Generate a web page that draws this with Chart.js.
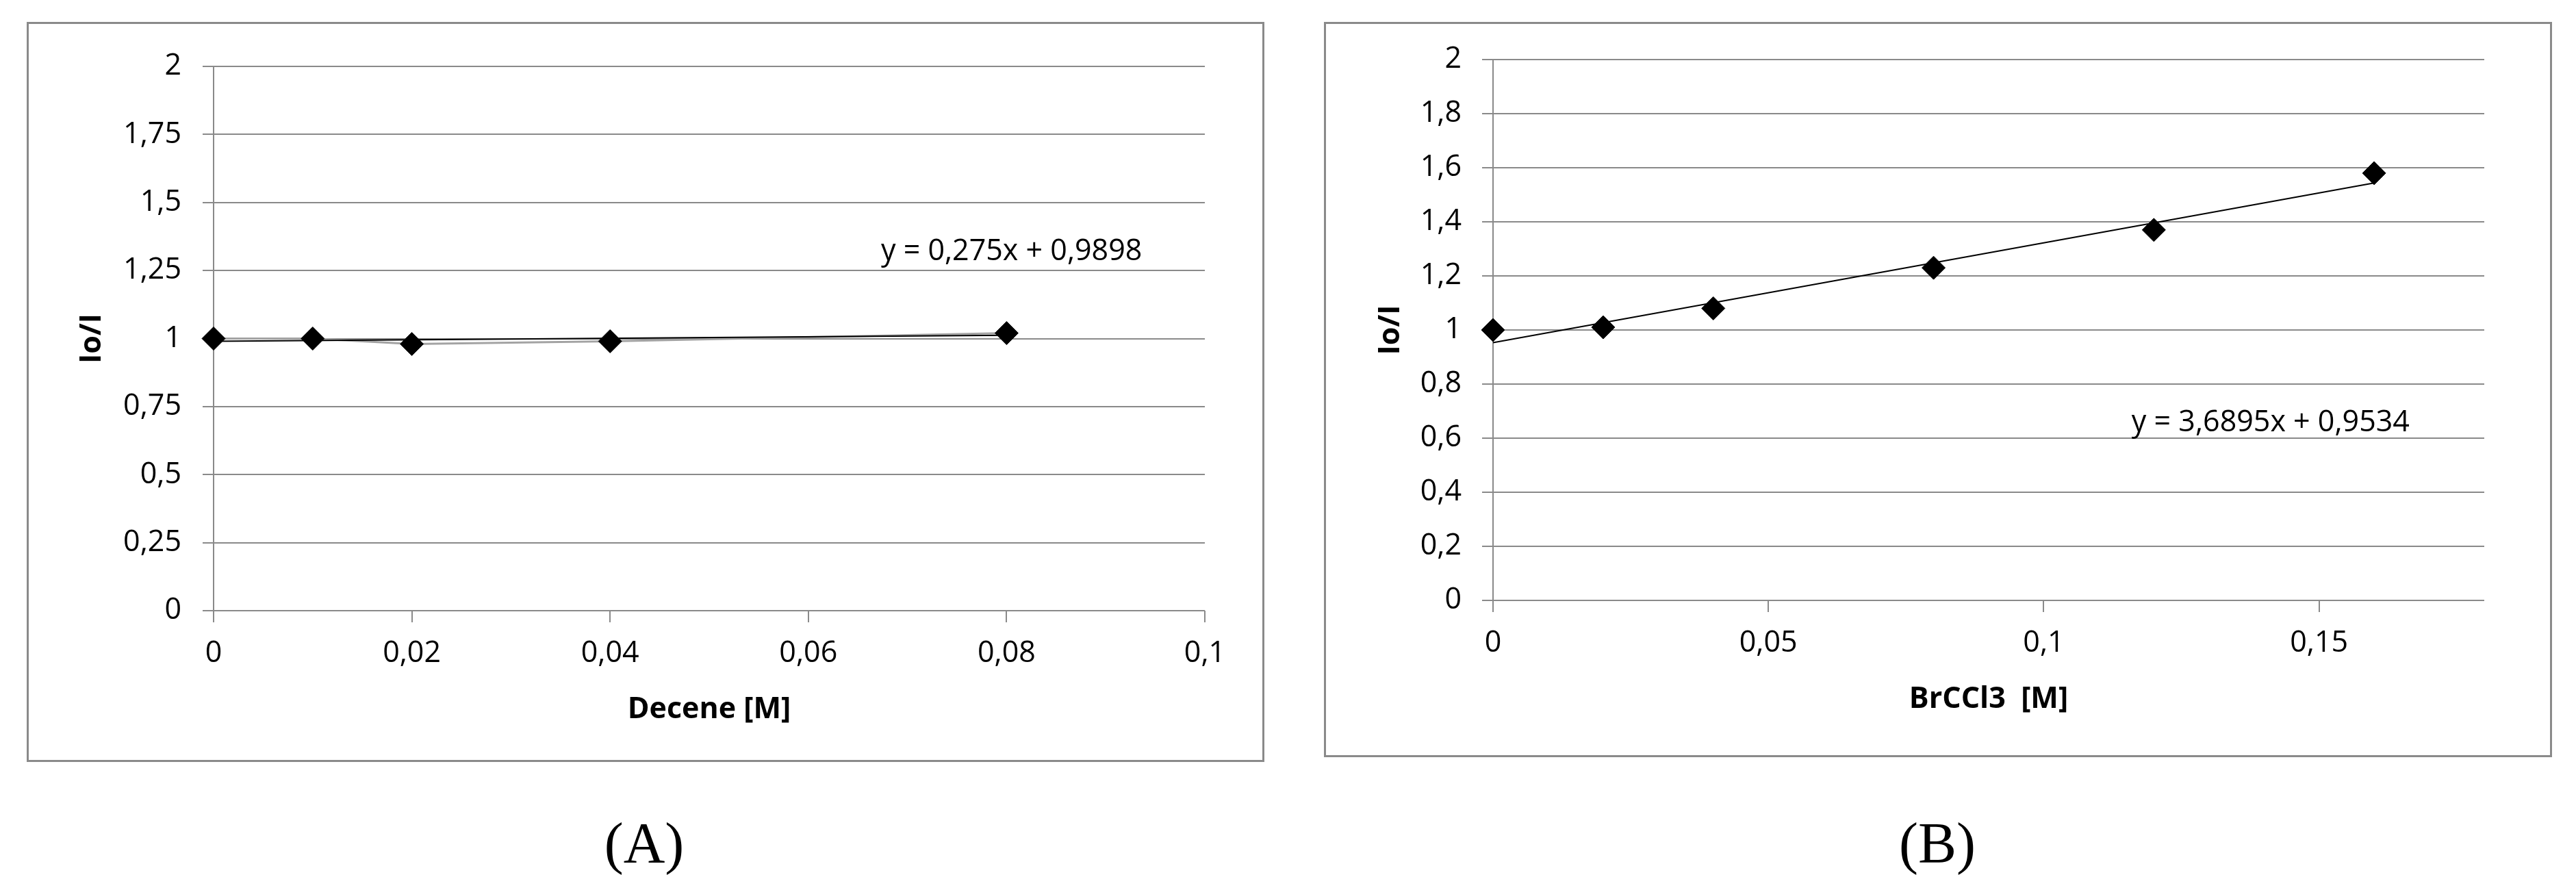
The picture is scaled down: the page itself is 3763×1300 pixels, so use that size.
<!DOCTYPE html>
<html>
<head>
<meta charset="utf-8">
<script src="https://cdn.jsdelivr.net/npm/chart.js@4.4.1/dist/chart.umd.min.js"></script>
<style>
  html, body { margin: 0; padding: 0; background: #fff; }
  body { width: 3763px; height: 1300px; position: relative; overflow: hidden; }
  .frame { position: absolute; box-sizing: border-box; border: 3px solid #8a8a8a; }
  canvas { position: absolute; top: 0; }
  .cap { position: absolute; font-family: "Liberation Serif", "DejaVu Serif", serif; font-size: 84px; color: #000;
         transform: translate(-50%, -50%); white-space: nowrap; line-height: 1; }
</style>
</head>
<body>
<div class="frame" style="left:39px;top:32px;width:1808px;height:1081px;"></div>
<div class="frame" style="left:1934px;top:32px;width:1794px;height:1074px;"></div>
<canvas id="chartA" width="1880" height="1300" style="left:0px;width:1880px;height:1300px;"></canvas>
<canvas id="chartB" width="1883" height="1300" style="left:1880px;width:1883px;height:1300px;"></canvas>
<div class="cap" style="left:941px;top:1232px;">(A)</div>
<div class="cap" style="left:2830px;top:1232px;">(B)</div>
<script>
// ---- Data ----
const xA = [0, 0.01, 0.02, 0.04, 0.08];
const yA = [1.0, 1.0, 0.98, 0.99, 1.02];
const xB = [0, 0.02, 0.04, 0.08, 0.12, 0.16];
const yB = [1.0, 1.01, 1.08, 1.23, 1.37, 1.58];

// Linear trendlines as printed on the charts
const slopeA = 0.275, interceptA = 0.9898;
const slopeB = 3.6895, interceptB = 0.9534;
const eqTextA = 'y = 0,275x + 0,9898';
const eqTextB = 'y = 3,6895x + 0,9534';

// Tick values
const xTicksA = [0, 0.02, 0.04, 0.06, 0.08, 0.1];
const yTicksA = [0, 0.25, 0.5, 0.75, 1, 1.25, 1.5, 1.75, 2];
const xTicksB = [0, 0.05, 0.1, 0.15];
const yTicksB = [0, 0.2, 0.4, 0.6, 0.8, 1, 1.2, 1.4, 1.6, 1.8, 2];

// Titles
const xTitleA = 'Decene [M]';
const xTitleB = 'BrCCl3  [M]';
const yTitle = 'Io/I';

// ---- Helpers ----
const FONT = '"Open Sans", "Liberation Sans", sans-serif';
const GRID = '#8a8a8a';
const fmt = v => String(+(+v).toFixed(4)).replace('.', ',');
const pts = (xs, ys) => xs.map((x, i) => ({x: x, y: ys[i]}));
const trend = (xs, m, b) => {
  const lo = Math.min(...xs), hi = Math.max(...xs);
  return [{x: lo, y: m * lo + b}, {x: hi, y: m * hi + b}];
};

const eqPlugin = {
  id: 'eq',
  afterDatasetsDraw(chart, args, opts) {
    const {ctx} = chart;
    const xs = chart.scales.x, ys = chart.scales.y;
    ctx.save();
    ctx.font = opts.font;
    ctx.fillStyle = '#000';
    ctx.textAlign = 'center';
    ctx.textBaseline = 'middle';
    ctx.fillText(opts.text, xs.getPixelForValue(opts.x), ys.getPixelForValue(opts.y));
    ctx.restore();
  }
};

function makeChart(id, cfg) {
  const datasets = [];
  if (cfg.connectLine) {
    datasets.push({
      label: 'line', data: pts(cfg.xs, cfg.ys), showLine: true, borderColor: '#a3a3a3', borderWidth: 3,
      pointRadius: 0, order: 3, clip: false
    });
  }
  datasets.push({
    label: 'trend', data: trend(cfg.xs, cfg.m, cfg.b), showLine: true, borderColor: '#000', borderWidth: 2,
    pointRadius: 0, order: 2, clip: false
  });
  datasets.push({
    label: 'data', data: pts(cfg.xs, cfg.ys), showLine: false, pointStyle: 'rectRot', pointRadius: 17,
    pointBackgroundColor: '#000', pointBorderColor: '#000', pointBorderWidth: 1, order: 1, clip: false
  });
  return new Chart(document.getElementById(id), {
    type: 'scatter',
    data: {datasets: datasets},
    plugins: [eqPlugin],
    options: {
      responsive: false, animation: false, devicePixelRatio: 1,
      layout: {padding: cfg.padding},
      plugins: {
        legend: {display: false}, tooltip: {enabled: false},
        eq: {text: cfg.eqText, x: cfg.eqX, y: cfg.eqY, font: '43px ' + FONT}
      },
      scales: {
        x: {
          type: 'linear', min: cfg.xMin, max: cfg.xMax,
          afterBuildTicks: s => { s.ticks = cfg.xTicks.map(v => ({value: v})); },
          afterFit: s => { s.height = cfg.xH; },
          grid: {drawOnChartArea: false, drawTicks: true, tickLength: 17, color: GRID, lineWidth: 2},
          border: {display: false},
          ticks: {callback: v => fmt(v), color: '#000', padding: 20, maxRotation: 0, autoSkip: false,
                  font: {family: FONT, size: 43}},
          title: {display: true, text: cfg.xTitle, color: '#000', padding: 0,
                  font: {family: FONT, size: 43, weight: 'bold'}}
        },
        y: {
          type: 'linear', min: 0, max: 2,
          afterBuildTicks: s => { s.ticks = cfg.yTicks.map(v => ({value: v})); },
          afterFit: s => { s.width = cfg.yW; },
          grid: {drawTicks: true, tickLength: 16, color: GRID, lineWidth: 2},
          border: {display: true, color: GRID, width: 2},
          ticks: {callback: v => fmt(v), color: '#000', padding: cfg.yPad, autoSkip: false,
                  font: {family: FONT, size: 43}},
          title: {display: true, text: yTitle, color: '#000', padding: 0,
                  font: {family: FONT, size: 43, weight: 'bold'}}
        }
      }
    }
  });
}

makeChart('chartA', {
  xs: xA, ys: yA, m: slopeA, b: interceptA, connectLine: true,
  eqText: eqTextA, eqX: 0.0805, eqY: 1.32,
  xMin: 0, xMax: 0.1, xTicks: xTicksA, yTicks: yTicksA, xTitle: xTitleA,
  padding: {left: 109, top: 97, right: 120, bottom: 237},
  yW: 203, xH: 171, yPad: 31
});

makeChart('chartB', {
  xs: xB, ys: yB, m: slopeB, b: interceptB, connectLine: false,
  eqText: eqTextB, eqX: 0.1412, eqY: 0.657,
  xMin: 0, xMax: 0.18, xTicks: xTicksB, yTicks: yTicksB, xTitle: xTitleB,
  padding: {left: 126, top: 87, right: 134, bottom: 252},
  yW: 175, xH: 171, yPad: 30
});
</script>
</body>
</html>
